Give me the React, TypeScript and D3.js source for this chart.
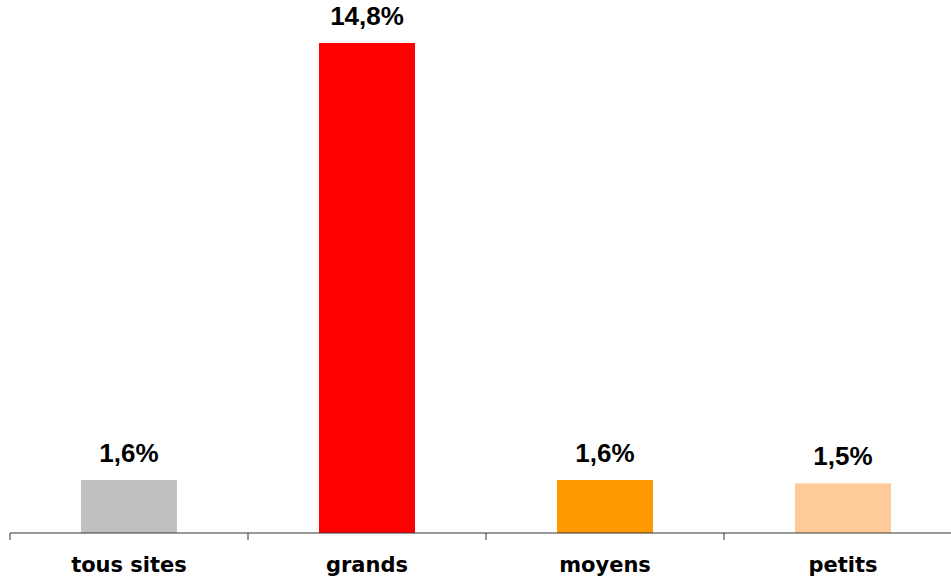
import React from 'react';
import * as d3 from 'd3';

const categories = ['tous sites', 'grands', 'moyens', 'petits'];
const values = [1.6, 14.8, 1.6, 1.5];
const valueLabels = ['1,6%', '14,8%', '1,6%', '1,5%'];
const colors = ['#c0c0c0', '#ff0000', '#ff9900', '#ffcc99'];

export default function App() {
  const width = 951;
  const height = 577;
  const baseline = 533;

  const x = d3.scaleBand<string>()
    .domain(categories)
    .range([10, 962])
    .paddingInner(0)
    .paddingOuter(0);

  const y = d3.scaleLinear()
    .domain([0, 14.8])
    .range([baseline, 43]);

  const barW = 96;
  const ticks = [...categories.map(c => x(c) as number), 962];

  return (
    <svg width={width} height={height} style={{ position: 'absolute', left: 0, top: 0 }}>
      <rect width={width} height={height} fill="#fff" />
      {categories.map((c, i) => {
        const cx = (x(c) as number) + x.bandwidth() / 2;
        return (
          <g key={c}>
            <rect x={cx - barW / 2} y={y(values[i])} width={barW} height={baseline - y(values[i])} fill={colors[i]} />
            <text x={cx} y={y(values[i]) - 18} textAnchor="middle"
              fontFamily="'Liberation Sans', Arial, sans-serif" fontWeight="bold" fontSize={26} fill="#000">
              {valueLabels[i]}
            </text>
            <text x={cx} y={572} textAnchor="middle"
              fontFamily="'DejaVu Sans', Verdana, sans-serif" fontWeight="bold" fontSize={21} fill="#000">
              {c}
            </text>
          </g>
        );
      })}
      <line x1={10} x2={951} y1={baseline} y2={baseline} stroke="#333" strokeWidth={1} />
      {ticks.map((t, i) => (
        <line key={i} x1={t} x2={t} y1={baseline} y2={baseline + 7} stroke="#333" strokeWidth={1} />
      ))}
    </svg>
  );
}
